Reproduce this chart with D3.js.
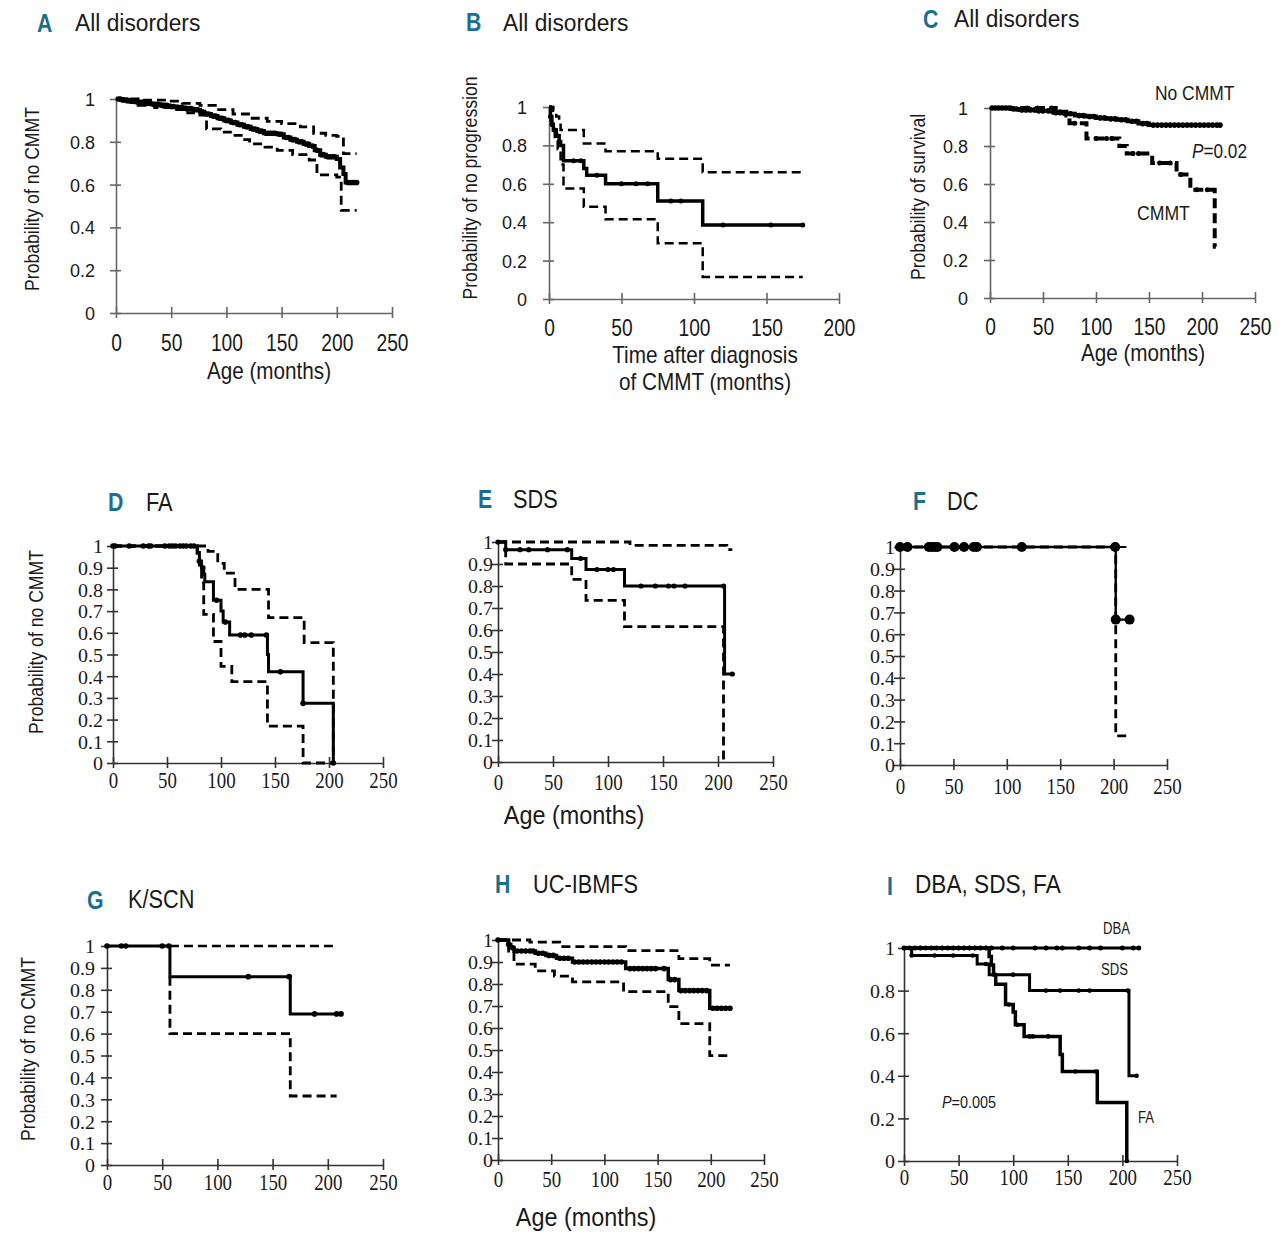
<!DOCTYPE html>
<html>
<head>
<meta charset="utf-8">
<script src="https://cdnjs.cloudflare.com/ajax/libs/d3/7.8.5/d3.min.js"></script>
<style>
body { margin: 0; background: #fff; }
</style>
</head>
<body>
<div id="chart"></div>
<script>
// ---------- data: step curves are [time, probability] events, censors are times ----------

// A  all disorders, no CMMT
var aSurv = [[0,1],[5,0.995],[12,0.99],[18,0.985],[25,0.98],[32,0.975],[40,0.97],[48,0.965],[55,0.96],[62,0.955],[70,0.95],[76,0.94],[80,0.93],[86,0.92],[92,0.91],[98,0.9],[104,0.89],[110,0.88],[116,0.87],[122,0.86],[128,0.85],[134,0.84],[146,0.835],[152,0.82],[158,0.81],[164,0.8],[170,0.79],[175,0.78],[180,0.76],[185,0.74],[190,0.73],[200,0.72],[203,0.68],[206,0.65],[208,0.61],[218,0.61]];
var aUpper = [[0,1],[20,0.995],[46,0.99],[60,0.98],[76,0.97],[90,0.95],[106,0.93],[120,0.91],[137,0.895],[150,0.885],[167,0.87],[179,0.84],[190,0.83],[200,0.825],[206,0.745],[218,0.745]];
var aLower = [[0,1],[10,0.985],[20,0.97],[35,0.96],[50,0.95],[65,0.935],[76,0.925],[82,0.86],[95,0.845],[105,0.83],[115,0.81],[121,0.79],[135,0.775],[146,0.76],[160,0.74],[175,0.715],[182,0.645],[200,0.635],[204,0.48],[218,0.48]];
var aCens = [2,4,6,8,10,14,16,20,22,24,28,30,34,36,38,42,44,46,50,52,56,58,60,64,66,68,72,74,78,82,84,88,90,94,96,100,102,106,108,112,114,118,120,124,126,130,132,136,138,140,142,144,148,150,154,156,160,162,166,168,172,174,178,182,186,188,192,194,196,198,210,212,214,216,218];

// B  all disorders, no progression after CMMT
var bSurv = [[0,1],[1,0.95],[2,0.91],[3,0.88],[5,0.85],[7,0.82],[8,0.8],[10,0.72],[24,0.68],[26,0.645],[39,0.6],[75,0.51],[106,0.385],[175,0.385]];
var bUpper = [[0,1],[3,0.98],[5,0.95],[7,0.92],[8,0.88],[24,0.81],[39,0.77],[75,0.73],[106,0.66],[175,0.66]];
var bLower = [[0,1],[1,0.93],[2,0.88],[4,0.83],[6,0.78],[8,0.7],[10,0.575],[24,0.48],[39,0.415],[75,0.29],[106,0.115],[175,0.115]];
var bCens = [1,2,4,6,17,22,33,50,60,68,84,91,120,153,175];

// C  all disorders, survival by CMMT
var cNoCmmt = [[0,1],[20,0.995],[28,0.99],[45,0.985],[60,0.975],[70,0.97],[80,0.96],[90,0.955],[100,0.948],[110,0.943],[120,0.938],[130,0.93],[140,0.918],[150,0.91],[217,0.91]];
var cNoCmmtCens = [2,5,8,12,15,18,22,25,30,34,38,42,46,50,55,58,62,66,72,76,84,88,94,98,104,108,114,118,124,128,134,138,144,148,154,158,162,166,170,174,178,182,186,190,194,198,202,206,210,214,217];
var cCmmt = [[0,1],[62,0.98],[72,0.96],[75,0.92],[91,0.84],[122,0.8],[129,0.76],[153,0.71],[176,0.65],[189,0.57],[212,0.27],[213,0.27]];
var cCmmtCens = [10,20,35,45,58,66,80,100,110,115,135,140,160,170,180,195,205];

// D  FA
var dSurv = [[0,1],[78,0.97],[80,0.93],[82,0.9],[84,0.87],[85,0.835],[93,0.75],[100,0.7],[102,0.65],[108,0.59],[143,0.5],[144,0.42],[176,0.275],[204,0],[205,0]];
var dUpper = [[0,1],[88,0.975],[97,0.92],[103,0.875],[113,0.8],[144,0.67],[177,0.555],[204,0],[205,0]];
var dLower = [[0,1],[78,0.95],[80,0.9],[82,0.83],[84,0.685],[93,0.56],[100,0.445],[110,0.375],[143,0.17],[176,0],[205,0]];
var dCens = [0,2,15,28,33,35,48,52,55,58,62,65,68,72,75,80,83,96,104,118,122,128,142,155,176,204];

// E  SDS
var eSurv = [[0,1],[7,0.965],[67,0.925],[80,0.875],[115,0.8],[206,0.4],[213,0.4]];
var eUpper = [[0,1],[120,0.985],[208,0.965],[213,0.965]];
var eLower = [[0,1],[7,0.9],[67,0.83],[80,0.735],[115,0.615],[205,0],[206,0]];
var eCens = [0,7,20,28,45,63,75,90,100,105,130,143,155,160,170,205,213];

// F  DC
var fSurv = [[0,1],[202,0.667],[215,0.667]];
var fUpper = [[0,1],[212,1]];
var fLower = [[0,1],[202,0.134],[215,0.134]];
var fCens = [0,7,27,30,33,35,51,60,69,72,114,201.5,202,215];

// G  K/SCN
var gSurv = [[0,1],[57,0.86],[166,0.69],[213,0.69]];
var gUpper = [[57,1],[208,1]];
var gLower = [[57,0.86],[57,0.6],[166,0.315],[208,0.315]];
var gCens = [0,13,17,50,56,128,165,188,208,212];

// H  UC-IBMFS
var hSurv = [[0,1],[10,0.98],[12,0.965],[15,0.95],[35,0.94],[45,0.93],[55,0.917],[70,0.9],[120,0.87],[160,0.82],[170,0.77],[199,0.69],[218,0.69]];
var hUpper = [[0,1],[30,0.99],[58,0.97],[120,0.952],[170,0.915],[199,0.886],[218,0.886]];
var hLower = [[0,1],[10,0.95],[15,0.89],[35,0.86],[53,0.836],[70,0.81],[118,0.765],[160,0.697],[170,0.62],[199,0.474],[218,0.474]];
var hCens = [0,10,14,18,22,26,30,33,38,42,48,52,58,62,66,72,76,80,84,88,92,96,100,104,108,112,116,124,128,132,136,140,144,148,156,162,166,172,176,180,184,188,192,196,202,206,210,214,218];

// I  DBA, SDS, FA
var iDba = [[0,1],[217,1]];
var iDbaCens = [0,5,10,15,20,25,30,35,40,45,50,55,60,65,70,75,80,90,100,120,130,140,145,160,170,180,200,210,215];
var iSds = [[0,1],[7,0.965],[67,0.925],[78,0.875],[115,0.8],[206,0.4],[213,0.4]];
var iSdsCens = [7,28,45,63,75,100,130,143,160,170,205,213];
var iFa = [[0,1],[78,0.96],[80,0.92],[82,0.875],[84,0.83],[93,0.735],[100,0.7],[102,0.64],[110,0.585],[143,0.5],[145,0.42],[177,0.275],[204,0],[205,0]];
var iFaCens = [2,15,28,35,50,55,60,65,70,75,83,96,104,115,118,132,157,176,204];

// tick labels
var xTicks250 = [0,50,100,150,200,250];
var xTicks200 = [0,50,100,150,200];
var yTicksFifth = [0,0.2,0.4,0.6,0.8,1];
var yTicksTenth = [0,0.1,0.2,0.3,0.4,0.5,0.6,0.7,0.8,0.9,1];

// ---------- drawing ----------
var SANS = "'Liberation Sans',Arial,sans-serif";
var SERIF = "'Liberation Serif','Times New Roman',serif";
var TEAL = "#1a6f8e";
var INK = "#1a1a1a";

var svg = d3.select("#chart").append("svg")
    .attr("width", 1280)
    .attr("height", 1235)
    .style("background", "#fff");

// probability of a step curve at time t
function stepValue(curve, t) {
    var s = curve[0][1];
    curve.forEach(function(p) { if (p[0] <= t) s = p[1]; });
    return s;
}

// text squeezed horizontally, the original figure uses a condensed face
function addText(g, x, y, str, o) {
    return g.append("text")
        .attr("transform", "translate(" + x + "," + y + ") scale(" + (o.sx || 1) + ",1)")
        .attr("text-anchor", o.anchor || "start")
        .style("font-family", o.font || SANS)
        .style("font-size", o.fs + "px")
        .style("font-weight", o.bold ? "bold" : null)
        .style("fill", o.fill || INK)
        .text(str);
}

function drawPanel(p) {
    var x = d3.scaleLinear().domain([0, p.xMax]).range([p.left, p.right]);
    var y = d3.scaleLinear().domain([0, 1]).range([p.bottom, p.top]);
    var g = svg.append("g");

    // x axis
    var xa = g.append("g")
        .attr("transform", "translate(0," + p.bottom + ")")
        .call(d3.axisBottom(x).tickValues(p.xTicks).tickSizeOuter(0));
    xa.selectAll(".tick line").attr("y1", -6).attr("y2", 5);
    xa.selectAll(".tick text")
        .attr("x", 0).attr("y", 0).attr("dy", 0)
        .attr("transform", "translate(0," + p.xOff + ") scale(" + p.xSx + ",1)")
        .style("font-family", p.tickFont).style("font-size", p.xFs + "px").style("fill", INK);

    // y axis
    var ya = g.append("g")
        .attr("transform", "translate(" + p.left + ",0)")
        .call(d3.axisLeft(y).tickValues(p.yTicks).tickSizeOuter(0)
            .tickFormat(function(d) { return +d.toFixed(1); }));
    ya.selectAll(".tick line").attr("x1", -6).attr("x2", 5);
    ya.selectAll(".tick text")
        .attr("x", 0).attr("dy", "0.36em")
        .attr("transform", "translate(" + (-p.yGap) + ",0) scale(" + p.ySx + ",1)")
        .style("font-family", p.tickFont).style("font-size", p.yFs + "px").style("fill", INK);

    g.selectAll(".domain, .tick line").attr("stroke", p.axisColor).attr("stroke-width", 1.6);

    // curves
    var line = d3.line()
        .x(function(d) { return x(d[0]); })
        .y(function(d) { return y(d[1]); })
        .curve(d3.curveStepAfter);

    p.curves.forEach(function(c) {
        g.append("path")
            .datum(c.data)
            .attr("d", line)
            .attr("fill", "none")
            .attr("stroke", "#000")
            .attr("stroke-width", c.w)
            .attr("stroke-dasharray", c.dash ? c.dash : null);
        if (c.cens) {
            g.selectAll(null)
                .data(c.cens)
                .enter().append("circle")
                .attr("cx", function(t) { return x(t); })
                .attr("cy", function(t) { return y(stepValue(c.data, t)); })
                .attr("r", c.r)
                .attr("fill", "#000");
        }
    });

    // panel letter and title
    addText(g, p.letter[0], p.letter[1], p.id, { fs: 25, bold: true, sx: 0.85, fill: TEAL });
    addText(g, p.title[0], p.title[1], p.title[2], { fs: p.titleFs, sx: p.titleSx });

    // axis titles
    (p.xTitle || []).forEach(function(t) {
        addText(g, t[0], t[1], t[2], { fs: t[3], sx: t[4], anchor: "middle" });
    });
    if (p.yTitle) {
        g.append("text")
            .attr("transform", "translate(" + p.yTitle[0] + "," + p.yTitle[1] + ") rotate(-90) scale(0.88,1)")
            .attr("text-anchor", "middle")
            .text(p.yTitle[2])
            .style("font-family", SANS).style("font-size", "20px").style("fill", INK);
    }

    // annotations
    (p.notes || []).forEach(function(n) {
        var t = addText(g, n.x, n.y, n.p ? null : n.text, { fs: n.fs, sx: n.sx });
        if (n.p) {
            t.append("tspan").style("font-style", "italic").text("P");
            t.append("tspan").text(n.text);
        }
    });
}

var panels = [
    { id: "A", left: 116, right: 392, xMax: 250, top: 99, bottom: 313,
      xTicks: xTicks250, yTicks: yTicksFifth, tickFont: SANS, xFs: 24, xSx: 0.8, yFs: 18, ySx: 1, xOff: 38, yGap: 21, axisColor: "#666",
      letter: [37, 32], title: [75, 31, "All disorders"], titleFs: 24, titleSx: 0.95,
      xTitle: [[269, 379, "Age (months)", 23, 0.9]], yTitle: [39, 199, "Probability of no CMMT"],
      curves: [
          { data: aUpper, w: 2.8, dash: "9,5" },
          { data: aLower, w: 2.8, dash: "9,5" },
          { data: aSurv, w: 4, cens: aCens, r: 2.8 }
      ] },
    { id: "B", left: 549, right: 839, xMax: 200, top: 107, bottom: 299,
      xTicks: xTicks200, yTicks: yTicksFifth, tickFont: SANS, xFs: 24, xSx: 0.8, yFs: 18, ySx: 1, xOff: 37, yGap: 22, axisColor: "#666",
      letter: [466, 31], title: [503, 31, "All disorders"], titleFs: 24, titleSx: 0.95,
      xTitle: [[705, 363, "Time after diagnosis", 23, 0.9], [705, 390, "of CMMT (months)", 23, 0.9]],
      yTitle: [477, 188, "Probability of no progression"],
      curves: [
          { data: bUpper, w: 2.5, dash: "9,5" },
          { data: bLower, w: 2.5, dash: "9,5" },
          { data: bSurv, w: 3.5, cens: bCens, r: 2.5 }
      ] },
    { id: "C", left: 990, right: 1255, xMax: 250, top: 108, bottom: 298,
      xTicks: xTicks250, yTicks: yTicksFifth, tickFont: SANS, xFs: 24, xSx: 0.8, yFs: 18, ySx: 1, xOff: 37, yGap: 22, axisColor: "#666",
      letter: [923, 28], title: [954, 27, "All disorders"], titleFs: 24, titleSx: 0.95,
      xTitle: [[1143, 361, "Age (months)", 23, 0.9]], yTitle: [925, 197, "Probability of survival"],
      notes: [
          { x: 1155, y: 100, text: "No CMMT", fs: 21, sx: 0.83 },
          { x: 1192, y: 158, text: "=0.02", fs: 20, sx: 0.86, p: true },
          { x: 1137, y: 220, text: "CMMT", fs: 21, sx: 0.84 }
      ],
      curves: [
          { data: cCmmt, w: 4, dash: "10,5", cens: cCmmtCens, r: 2.5 },
          { data: cNoCmmt, w: 4, cens: cNoCmmtCens, r: 2.8 }
      ] },
    { id: "D", left: 113, right: 383, xMax: 250, top: 546, bottom: 763,
      xTicks: xTicks250, yTicks: yTicksTenth, tickFont: SERIF, xFs: 23, xSx: 0.82, yFs: 19, ySx: 1.05, xOff: 25, yGap: 10, axisColor: "#333",
      letter: [108, 511], title: [146, 511, "FA"], titleFs: 25, titleSx: 0.87,
      yTitle: [43, 642, "Probability of no CMMT"],
      curves: [
          { data: dUpper, w: 2.8, dash: "9,5" },
          { data: dLower, w: 2.8, dash: "9,5" },
          { data: dSurv, w: 3, cens: dCens, r: 2.8 }
      ] },
    { id: "E", left: 498, right: 773, xMax: 250, top: 542, bottom: 762,
      xTicks: xTicks250, yTicks: yTicksTenth, tickFont: SERIF, xFs: 23, xSx: 0.82, yFs: 19, ySx: 1.05, xOff: 28, yGap: 5, axisColor: "#333",
      letter: [478, 508], title: [513, 508, "SDS"], titleFs: 25, titleSx: 0.87,
      xTitle: [[574, 824, "Age (months)", 26, 0.9]],
      curves: [
          { data: eUpper, w: 2.8, dash: "9,5" },
          { data: eLower, w: 2.8, dash: "9,5" },
          { data: eSurv, w: 3, cens: eCens, r: 2.6 }
      ] },
    { id: "F", left: 900, right: 1167, xMax: 250, top: 547, bottom: 765,
      xTicks: xTicks250, yTicks: yTicksTenth, tickFont: SERIF, xFs: 23, xSx: 0.82, yFs: 19, ySx: 1.05, xOff: 29, yGap: 5, axisColor: "#333",
      letter: [913, 510], title: [947, 510, "DC"], titleFs: 25, titleSx: 0.87,
      curves: [
          { data: fLower, w: 2.8, dash: "9,5" },
          { data: fUpper, w: 1.8 },
          { data: fSurv, w: 2.4, cens: fCens, r: 5 }
      ] },
    { id: "G", left: 107, right: 383, xMax: 250, top: 946, bottom: 1165,
      xTicks: xTicks250, yTicks: yTicksTenth, tickFont: SERIF, xFs: 23, xSx: 0.82, yFs: 19, ySx: 1.05, xOff: 25, yGap: 12, axisColor: "#333",
      letter: [87, 909], title: [128, 908, "K/SCN"], titleFs: 25, titleSx: 0.87,
      yTitle: [35, 1049, "Probability of no CMMT"],
      curves: [
          { data: gUpper, w: 2.6, dash: "9,5" },
          { data: gLower, w: 2.8, dash: "9,5" },
          { data: gSurv, w: 3, cens: gCens, r: 2.8 }
      ] },
    { id: "H", left: 498, right: 764, xMax: 250, top: 940, bottom: 1160,
      xTicks: xTicks250, yTicks: yTicksTenth, tickFont: SERIF, xFs: 23, xSx: 0.82, yFs: 19, ySx: 1.05, xOff: 27, yGap: 5, axisColor: "#333",
      letter: [495, 893], title: [533, 893, "UC-IBMFS"], titleFs: 25, titleSx: 0.87,
      xTitle: [[586, 1226, "Age (months)", 26, 0.9]],
      curves: [
          { data: hUpper, w: 2.8, dash: "9,5" },
          { data: hLower, w: 2.8, dash: "9,5" },
          { data: hSurv, w: 3.5, cens: hCens, r: 2.8 }
      ] },
    { id: "I", left: 904, right: 1177, xMax: 250, top: 948, bottom: 1161,
      xTicks: xTicks250, yTicks: yTicksFifth, tickFont: SERIF, xFs: 23, xSx: 0.82, yFs: 19, ySx: 1.05, xOff: 24, yGap: 9, axisColor: "#333",
      letter: [887, 895], title: [915, 893, "DBA, SDS, FA"], titleFs: 26, titleSx: 0.87,
      notes: [
          { x: 1103, y: 934, text: "DBA", fs: 16, sx: 0.82 },
          { x: 1101, y: 975, text: "SDS", fs: 16, sx: 0.82 },
          { x: 1138, y: 1123, text: "FA", fs: 16, sx: 0.82 },
          { x: 942, y: 1108, text: "=0.005", fs: 16, sx: 0.9, p: true }
      ],
      curves: [
          { data: iDba, w: 3, cens: iDbaCens, r: 2.5 },
          { data: iSds, w: 3, cens: iSdsCens, r: 2.3 },
          { data: iFa, w: 3.5, cens: iFaCens, r: 2.3 }
      ] }
];

panels.forEach(drawPanel);
</script>
</body>
</html>
